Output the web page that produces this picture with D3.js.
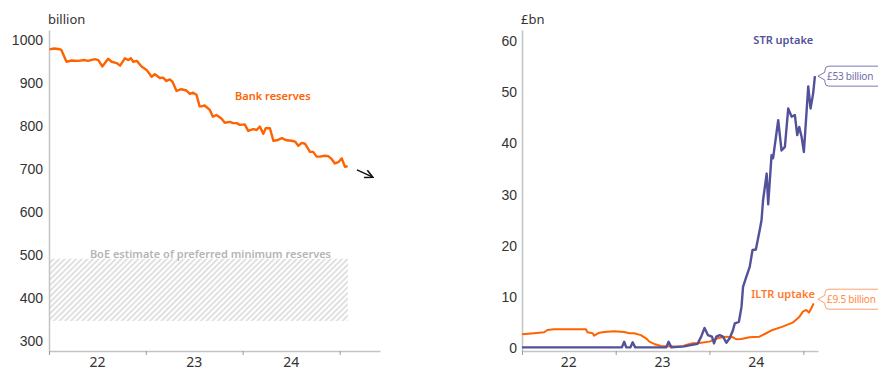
<!DOCTYPE html>
<html>
<head>
<meta charset="utf-8">
<script src="https://cdn.jsdelivr.net/npm/d3@7"></script>
<style>
  body { margin: 0; background: #fff; }
  svg { display: block; font-family: "Noto Sans", sans-serif; }
  .tick text { fill: #333; font-size: 14px; }
  .note { font-size: 11px; font-weight: 600; }
</style>
</head>
<body>
<div id="chart"></div>
<script>
// ---- data ----
const yearLabels = ["22", "23", "24"];
const yearStarts = ["2022-01-01", "2023-01-01", "2024-01-01", "2025-01-01"];
const leftTicks = [300, 400, 500, 600, 700, 800, 900, 1000];
const rightTicks = [0, 10, 20, 30, 40, 50, 60];

// Bank reserves, £ billion
const reserveDates = ["2022-01-03","2022-01-20","2022-02-11","2022-02-17","2022-03-08","2022-03-27","2022-04-20","2022-05-16","2022-05-28","2022-06-23","2022-07-06","2022-07-21","2022-07-31","2022-08-12","2022-08-25","2022-09-13","2022-09-26","2022-10-14","2022-10-27","2022-11-06","2022-11-15","2022-11-28","2022-12-16","2023-01-04","2023-01-23","2023-02-04","2023-02-23","2023-03-07","2023-03-20","2023-04-01","2023-04-11","2023-04-27","2023-05-15","2023-06-03","2023-06-16","2023-06-28","2023-07-11","2023-07-23","2023-07-30","2023-08-11","2023-08-30","2023-09-11","2023-09-24","2023-10-13","2023-10-26","2023-11-14","2023-11-26","2023-12-09","2023-12-22","2024-01-09","2024-01-22","2024-02-10","2024-02-23","2024-03-06","2024-03-19","2024-03-28","2024-04-13","2024-04-26","2024-05-09","2024-05-28","2024-06-15","2024-07-04","2024-07-17","2024-07-29","2024-08-11","2024-08-23","2024-09-11","2024-09-23","2024-10-06","2024-10-19","2024-11-06","2024-11-19","2024-12-02","2024-12-14","2024-12-27","2025-01-09","2025-01-21","2025-01-31"];
const reserveValues = [978,980,978,976,949,952,951,953,951,955,953,938,946,956,949,946,940,957,953,957,949,951,938,930,914,920,911,912,904,908,903,881,885,882,874,877,872,845,845,847,837,821,825,817,807,809,806,806,802,803,788,792,790,798,781,794,794,765,766,771,766,765,763,753,760,758,739,739,728,728,730,729,722,712,715,724,704,706];

// BoE preferred minimum reserves range
const boeRange = [345, 490];
const boeEnd = "2025-02-01";
// arrow pointing down after the last point
const arrowDates = ["2025-03-07", "2025-05-06"];
const arrowValues = [697, 680];

// ILTR uptake, £bn
const iltrDates = ["2022-01-01","2022-02-17","2022-03-28","2022-04-10","2022-05-06","2022-07-23","2022-09-07","2022-09-13","2022-10-03","2022-10-09","2022-10-29","2022-11-17","2022-12-26","2023-02-03","2023-02-23","2023-03-14","2023-04-09","2023-04-29","2023-05-12","2023-05-31","2023-06-26","2023-08-17","2023-09-20","2023-10-02","2023-10-28","2023-11-23","2024-01-01","2024-02-02","2024-03-06","2024-04-01","2024-04-14","2024-05-04","2024-06-05","2024-07-14","2024-08-09","2024-09-03","2024-10-12","2024-11-20","2024-12-17","2024-12-30","2025-01-12","2025-01-23","2025-02-01","2025-02-10"];
const iltrValues = [2.67,2.86,3.05,3.5,3.64,3.64,3.64,3.05,2.86,2.4,2.98,3.1,3.25,3.1,2.86,2.86,2.5,1.88,1.23,0.78,0.39,0.3,0.35,0.58,0.9,0.95,1.23,1.88,2.2,2.1,1.69,1.75,2.08,2.2,2.86,3.5,4.15,4.93,6.1,7.07,7.4,6.9,7.73,8.7];

// STR uptake, £bn
const strDates = ["2022-01-01","2023-01-25","2023-02-03","2023-02-11","2023-02-27","2023-03-08","2023-03-18","2023-07-17","2023-07-26","2023-08-06","2023-09-26","2023-10-15","2023-11-16","2023-11-30","2023-12-13","2023-12-26","2024-01-11","2024-01-19","2024-01-28","2024-02-10","2024-02-23","2024-03-07","2024-03-20","2024-04-02","2024-04-09","2024-04-25","2024-05-05","2024-05-11","2024-05-24","2024-06-06","2024-06-17","2024-06-30","2024-07-15","2024-07-22","2024-07-28","2024-08-11","2024-08-17","2024-08-30","2024-09-05","2024-09-25","2024-10-08","2024-10-21","2024-11-03","2024-11-16","2024-11-29","2024-12-08","2024-12-16","2024-12-25","2025-01-03","2025-01-20","2025-01-29","2025-02-08","2025-02-15"];
const strValues = [0.1,0.1,1.2,0.1,0.1,1.1,0.1,0.1,1.2,0.1,0.3,0.5,0.8,2.2,3.9,2.5,2.2,0.9,2.2,2.5,2.2,1.0,1.9,3.5,4.8,5.1,8.0,11.9,13.9,15.8,19.1,19.2,23,24.9,28.8,34,28,37.6,37,44.4,38.5,39.2,46.7,45.1,45.4,41.5,43.1,41.2,38.2,51,46.7,49.6,53];

const calloutLabels = ["£53 billion", "£9.5 billion"];
const calloutValues = [53, 9.5];

const ORANGE = "#ff6200";
const PURPLE = "#52519a";
const AXIS_GREY = "#c4c4c4";

const parse = d3.timeParse("%Y-%m-%d");
const zip = (dates, values) => dates.map((d, i) => ({date: parse(d), value: values[i]}));

const svg = d3.select("#chart").append("svg")
    .attr("width", 878)
    .attr("height", 371);

const defs = svg.append("defs");
const hatch = defs.append("pattern")
    .attr("id", "hatch")
    .attr("patternUnits", "userSpaceOnUse")
    .attr("width", 4)
    .attr("height", 4)
    .attr("patternTransform", "rotate(45)");
hatch.append("line")
    .attr("x1", 1).attr("y1", 0).attr("x2", 1).attr("y2", 4)
    .attr("stroke", "#cccccc")
    .attr("stroke-width", 1.2);

defs.append("marker")
    .attr("id", "arrowHead")
    .attr("viewBox", "0 0 10 10")
    .attr("refX", 9).attr("refY", 5)
    .attr("markerWidth", 7).attr("markerHeight", 7)
    .attr("orient", "auto")
    .append("path")
    .attr("d", "M1,1 L9,5 L1,9")
    .attr("fill", "none")
    .attr("stroke", "#111")
    .attr("stroke-width", 1.6);

/**
 * Draw the frame of one panel: y axis line + labels, x axis with year ticks
 */
function drawAxes(g, x, y, ticks, unit, yPad) {
    const yAxis = d3.axisLeft(y).tickValues(ticks).tickFormat(d3.format("d")).tickSize(0).tickPadding(yPad);
    const yG = g.append("g")
        .attr("transform", "translate(" + x.range()[0] + ",0)")
        .call(yAxis);
    yG.select(".domain").attr("stroke", AXIS_GREY).attr("stroke-width", 1.5);
    yG.selectAll(".tick text").attr("dy", "0.36em");

    const xAxis = d3.axisBottom(x)
        .tickValues(yearStarts.map(parse).filter(d => d <= x.domain()[1]))
        .tickFormat("")
        .tickSize(4)
        .tickSizeOuter(0);
    const xG = g.append("g")
        .attr("transform", "translate(0," + y.range()[0] + ")")
        .call(xAxis);
    xG.select(".domain").attr("stroke", AXIS_GREY).attr("stroke-width", 1.5);
    xG.selectAll(".tick line").attr("stroke", "#999");

    // year labels sit in the middle of each year
    g.selectAll(".yearLabel")
        .data(yearLabels)
        .join("text")
        .attr("class", "yearLabel")
        .attr("x", (d, i) => (x(parse(yearStarts[i])) + x(parse(yearStarts[i + 1]))) / 2)
        .attr("y", 367)
        .attr("text-anchor", "middle")
        .attr("fill", "#333")
        .attr("font-size", 14)
        .text(d => d);

    g.append("text")
        .attr("x", x.range()[0] - 1)
        .attr("y", 24)
        .attr("fill", "#333")
        .attr("font-size", 13)
        .text(unit);
}

function drawCallout(g, tipX, tipY, label, stroke, textColor) {
    const left = tipX + 7, top = tipY - 10, bottom = tipY + 10, right = 890, r = 4;
    g.append("path")
        .attr("d", "M" + tipX + "," + tipY +
            " L" + left + "," + (tipY - 4) +
            " L" + left + "," + (top + r) +
            " Q" + left + "," + top + " " + (left + r) + "," + top +
            " L" + right + "," + top +
            " L" + right + "," + bottom +
            " L" + (left + r) + "," + bottom +
            " Q" + left + "," + bottom + " " + left + "," + (bottom - r) +
            " L" + left + "," + (tipY + 4) + " Z")
        .attr("fill", "#fff")
        .attr("stroke", stroke)
        .attr("stroke-width", 1);
    g.append("text")
        .attr("x", left + 2)
        .attr("y", tipY + 3.5)
        .attr("fill", textColor)
        .attr("font-size", 10)
        .attr("letter-spacing", "-0.2")
        .text(label);
}

// ---------------- left panel: bank reserves ----------------
const left = svg.append("g");
const xL = d3.scaleTime().domain([parse("2022-01-01"), parse("2025-06-02")]).range([49, 380]);
const yL = d3.scaleLinear().domain([275, 1023]).range([351, 30]);

// hatched BoE band
left.append("rect")
    .attr("x", xL(parse("2022-01-01")))
    .attr("y", yL(boeRange[1]))
    .attr("width", xL(parse(boeEnd)) - xL(parse("2022-01-01")))
    .attr("height", yL(boeRange[0]) - yL(boeRange[1]))
    .attr("fill", "url(#hatch)");

left.append("text")
    .attr("class", "note")
    .attr("x", (xL(parse("2022-01-01")) + xL(parse(boeEnd))) / 2 + 12)
    .attr("y", yL(boeRange[1]) - 1)
    .attr("text-anchor", "middle")
    .attr("fill", "#b5b5b5")
    .text("BoE estimate of preferred minimum reserves");

drawAxes(left, xL, yL, leftTicks, "billion", 6);

left.append("path")
    .datum(zip(reserveDates, reserveValues))
    .attr("fill", "none")
    .attr("stroke", ORANGE)
    .attr("stroke-width", 2.4)
    .attr("stroke-linejoin", "round")
    .attr("d", d3.line().x(d => xL(d.date)).y(d => yL(d.value)));

left.append("text")
    .attr("class", "note")
    .attr("x", xL(parse("2024-04-24")))
    .attr("y", yL(860))
    .attr("text-anchor", "middle")
    .attr("fill", ORANGE)
    .text("Bank reserves");

const arrowPts = zip(arrowDates, arrowValues);
left.append("line")
    .attr("x1", xL(arrowPts[0].date)).attr("y1", yL(arrowPts[0].value))
    .attr("x2", xL(arrowPts[1].date)).attr("y2", yL(arrowPts[1].value))
    .attr("stroke", "#111")
    .attr("stroke-width", 1.4)
    .attr("marker-end", "url(#arrowHead)");

// ---------------- right panel: STR / ILTR uptake ----------------
const right = svg.append("g");
const xR = d3.scaleTime().domain([parse("2022-01-01"), parse("2025-02-27")]).range([522, 818]);
const yR = d3.scaleLinear().domain([-0.6, 62]).range([351, 30]);

drawAxes(right, xR, yR, rightTicks, "£bn", 5);

const lineR = d3.line().x(d => xR(d.date)).y(d => yR(d.value));

const iltr = zip(iltrDates, iltrValues);
const str = zip(strDates, strValues);

right.append("path")
    .datum(iltr)
    .attr("fill", "none")
    .attr("stroke", ORANGE)
    .attr("stroke-width", 2)
    .attr("stroke-linejoin", "round")
    .attr("d", lineR);

right.append("path")
    .datum(str)
    .attr("fill", "none")
    .attr("stroke", PURPLE)
    .attr("stroke-width", 2.4)
    .attr("stroke-linejoin", "round")
    .attr("d", lineR);

right.append("text")
    .attr("class", "note")
    .attr("x", xR(parse("2024-10-15")))
    .attr("y", yR(60) + 4)
    .attr("text-anchor", "middle")
    .attr("fill", PURPLE)
    .text("STR uptake");

right.append("text")
    .attr("class", "note")
    .attr("x", xR(parse("2024-10-14")))
    .attr("y", yR(10) + 1)
    .attr("text-anchor", "middle")
    .attr("fill", "#ff7a2e")
    .text("ILTR uptake");

const endX = xR(str[str.length - 1].date) + 3;
drawCallout(right, endX, yR(calloutValues[0]), calloutLabels[0], "#7a79b5", "#6f6ea8");
drawCallout(right, endX, yR(calloutValues[1]), calloutLabels[1], "#ffa26a", "#ff8a45");
</script>
</body>
</html>
